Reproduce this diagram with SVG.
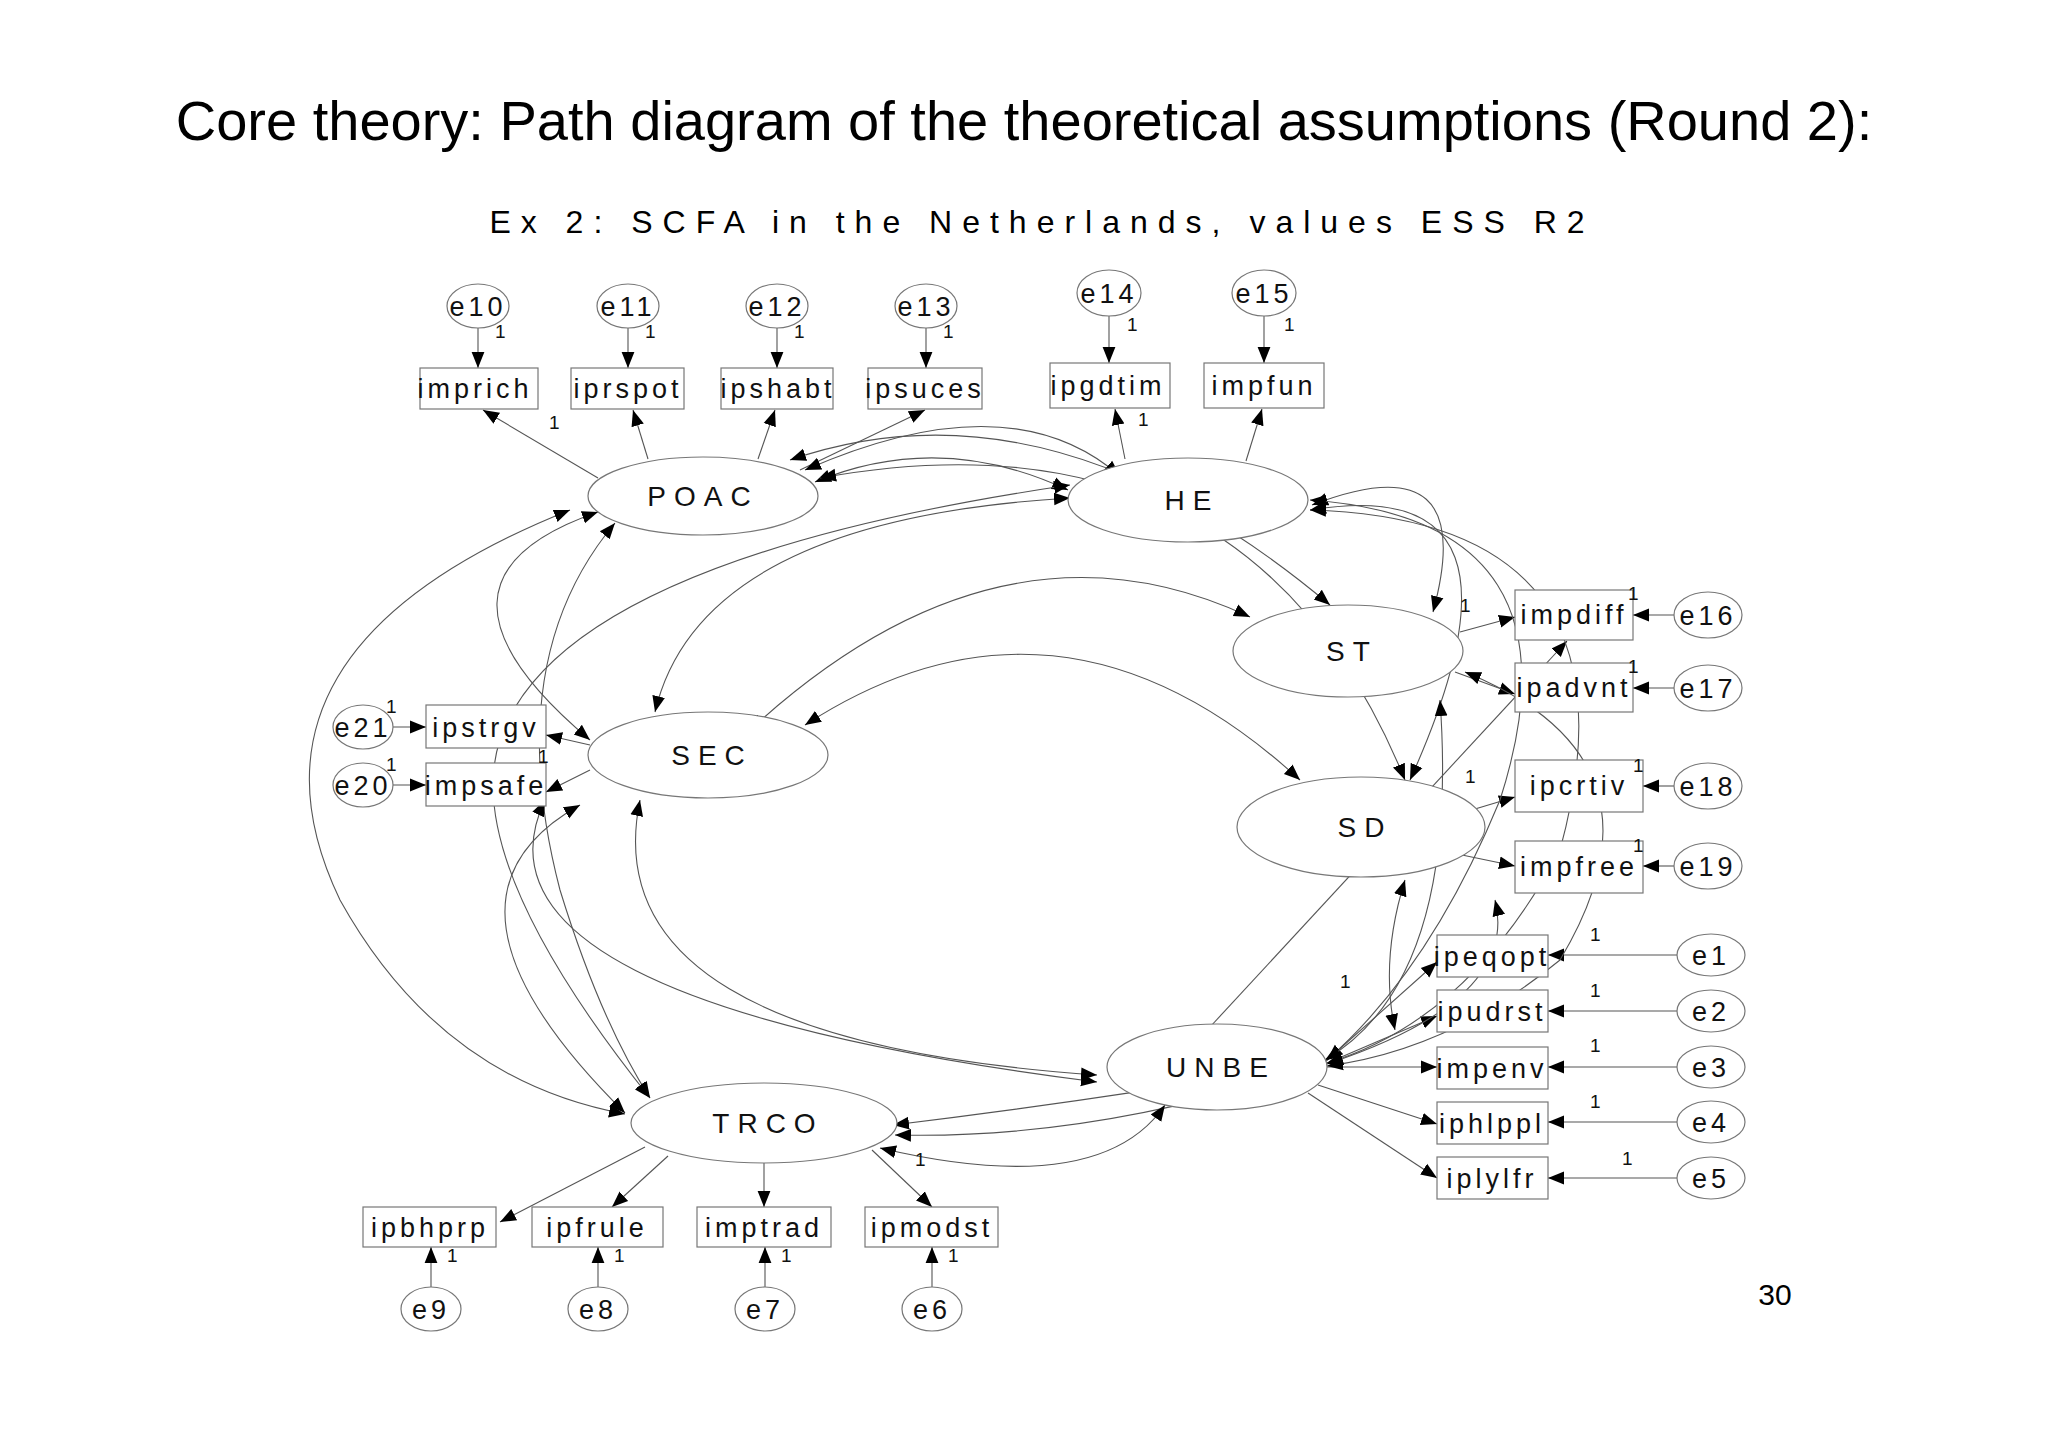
<svg xmlns="http://www.w3.org/2000/svg" width="2048" height="1447" viewBox="0 0 2048 1447">
<defs>
<marker id="a" viewBox="0 0 10 10" refX="10" refY="5" markerWidth="16" markerHeight="16" markerUnits="userSpaceOnUse" orient="auto-start-reverse"><path d="M0,1 L10,5 L0,9 z" fill="#000"/></marker>
<style>
.n{fill:#fff;stroke:#777;stroke-width:1.2}
.b{fill:#fff;stroke:#777;stroke-width:1.2}
.t{font-family:"Liberation Sans",Arial,sans-serif;font-size:27px;letter-spacing:4px;text-anchor:middle;fill:#111}
.L{font-family:"Liberation Sans",Arial,sans-serif;font-size:28px;letter-spacing:8px;text-anchor:middle;fill:#111}
.o{font-family:"Liberation Sans",Arial,sans-serif;font-size:19px;fill:#111}
.c path,.c line{fill:none;stroke:#555;stroke-width:1.1}
.s{marker-end:url(#a)}
.d{marker-end:url(#a);marker-start:url(#a)}
</style>
</defs>
<rect width="2048" height="1447" fill="#fff"/>
<text x="1024" y="140" font-family="Liberation Sans,Arial,sans-serif" font-size="56" text-anchor="middle">Core theory: Path diagram of the theoretical assumptions (Round 2):</text>
<text x="1042" y="233" font-family="Liberation Sans,Arial,sans-serif" font-size="32" letter-spacing="10" text-anchor="middle">Ex 2: SCFA in the Netherlands, values ESS R2</text>

<g class="c" id="connectors">
<!-- error arrows -->
<line class="s" x1="478" y1="328" x2="478" y2="368"/>
<line class="s" x1="628" y1="328" x2="628" y2="368"/>
<line class="s" x1="777" y1="328" x2="777" y2="368"/>
<line class="s" x1="926" y1="328" x2="926" y2="368"/>
<line class="s" x1="1109" y1="315" x2="1109" y2="363"/>
<line class="s" x1="1264" y1="315" x2="1264" y2="363"/>
<line class="s" x1="1674" y1="615" x2="1633" y2="615"/>
<line class="s" x1="1674" y1="688" x2="1633" y2="688"/>
<line class="s" x1="1674" y1="786" x2="1643" y2="786"/>
<line class="s" x1="1674" y1="866" x2="1643" y2="866"/>
<line class="s" x1="1677" y1="955" x2="1548" y2="955"/>
<line class="s" x1="1677" y1="1011" x2="1548" y2="1011"/>
<line class="s" x1="1677" y1="1067" x2="1548" y2="1067"/>
<line class="s" x1="1677" y1="1122" x2="1548" y2="1122"/>
<line class="s" x1="1677" y1="1178" x2="1548" y2="1178"/>
<line class="s" x1="393" y1="727" x2="426" y2="727"/>
<line class="s" x1="393" y1="785" x2="426" y2="785"/>
<line class="s" x1="431" y1="1287" x2="431" y2="1247"/>
<line class="s" x1="598" y1="1287" x2="598" y2="1247"/>
<line class="s" x1="765" y1="1287" x2="765" y2="1247"/>
<line class="s" x1="932" y1="1287" x2="932" y2="1247"/>
<!-- loadings -->
<line class="s" x1="598" y1="478" x2="483" y2="410"/>
<line class="s" x1="648" y1="459" x2="633" y2="410"/>
<line class="s" x1="758" y1="459" x2="775" y2="410"/>
<line class="s" x1="800" y1="470" x2="925" y2="410"/>
<line class="s" x1="1125" y1="459" x2="1115" y2="409"/>
<line class="s" x1="1246" y1="461" x2="1262" y2="409"/>
<line class="s" x1="1460" y1="632" x2="1515" y2="617"/>
<line class="s" x1="1455" y1="672" x2="1515" y2="694"/>
<line class="s" x1="1465" y1="812" x2="1515" y2="797"/>
<line class="s" x1="1462" y1="855" x2="1515" y2="866"/>
<line class="s" x1="1325" y1="1062" x2="1437" y2="962"/>
<line class="s" x1="1325" y1="1064" x2="1437" y2="1016"/>
<line class="s" x1="1327" y1="1067" x2="1437" y2="1067"/>
<line class="s" x1="1318" y1="1085" x2="1437" y2="1124"/>
<line class="s" x1="1308" y1="1093" x2="1437" y2="1178"/>
<line class="s" x1="1210" y1="1027" x2="1567" y2="641"/>
<line class="s" x1="590" y1="745" x2="546" y2="735"/>
<line class="s" x1="590" y1="770" x2="546" y2="792"/>
<line class="s" x1="645" y1="1147" x2="500" y2="1222"/>
<line class="s" x1="668" y1="1156" x2="612" y2="1207"/>
<line class="s" x1="764" y1="1163" x2="764" y2="1207"/>
<line class="s" x1="872" y1="1150" x2="932" y2="1207"/>
<!-- covariances -->
<path class="d" d="M815,482 Q940,430 1068,490"/>
<path class="d" d="M805,470 Q1010,380 1120,476"/>
<path class="d" d="M790,460 Q1050,370 1330,605"/>
<path class="d" d="M820,478 Q1250,400 1405,780"/>
<path class="d" d="M598,512 Q400,580 590,740"/>
<path class="d" d="M570,510 Q220,650 340,900 Q440,1080 625,1114"/>
<path class="d" d="M615,523 Q500,660 560,890 Q600,1020 650,1098"/>
<path class="d" d="M1070,498 Q700,520 655,712"/>
<path class="d" d="M1070,485 Q560,560 500,740 Q460,860 650,1098"/>
<path class="d" d="M1250,617 Q1000,500 750,730"/>
<path class="d" d="M1300,780 Q1060,560 805,725"/>
<path class="d" d="M1312,505 Q1480,440 1433,612"/>
<path class="d" d="M1310,510 Q1550,470 1410,780"/>
<path class="d" d="M1310,500 Q1590,520 1500,800 Q1430,970 1327,1060"/>
<path class="d" d="M1310,510 Q1650,520 1560,850 Q1470,1020 1327,1063"/>
<path class="d" d="M1465,672 Q1680,760 1560,960 Q1450,1050 1327,1066"/>
<path class="d" d="M1440,700 Q1460,980 1325,1060"/>
<path class="d" d="M1495,900 Q1520,1000 1327,1064"/>
<path class="d" d="M1405,880 Q1380,960 1395,1030"/>
<path class="d" d="M640,800 Q590,1040 1097,1075"/>
<path class="d" d="M545,800 Q450,1000 1097,1082"/>
<path class="d" d="M580,805 Q410,900 625,1113"/>
<path class="d" d="M895,1135 Q1100,1140 1322,1064"/>
<path class="d" d="M893,1125 Q1100,1100 1322,1062"/>
<path class="d" d="M880,1148 Q1100,1200 1165,1105"/>
</g>

<g id="POAC"><ellipse class="n" cx="703" cy="496" rx="115" ry="39"/><text class="L" x="703" y="506">POAC</text></g>
<g id="HE"><ellipse class="n" cx="1188" cy="500" rx="120" ry="42"/><text class="L" x="1192" y="510">HE</text></g>
<g id="ST"><ellipse class="n" cx="1348" cy="651" rx="115" ry="46"/><text class="L" x="1352" y="661">ST</text></g>
<g id="SD"><ellipse class="n" cx="1361" cy="827" rx="124" ry="50"/><text class="L" x="1365" y="837">SD</text></g>
<g id="SEC"><ellipse class="n" cx="708" cy="755" rx="120" ry="43"/><text class="L" x="712" y="765">SEC</text></g>
<g id="UNBE"><ellipse class="n" cx="1217" cy="1067" rx="110" ry="43"/><text class="L" x="1221" y="1077">UNBE</text></g>
<g id="TRCO"><ellipse class="n" cx="764" cy="1123" rx="133" ry="40"/><text class="L" x="768" y="1133">TRCO</text></g>

<g id="imprich"><rect class="b" x="420" y="368" width="118" height="41"/><text class="t" x="475" y="398">imprich</text></g>
<g id="iprspot"><rect class="b" x="571" y="368" width="113" height="41"/><text class="t" x="628" y="398">iprspot</text></g>
<g id="ipshabt"><rect class="b" x="721" y="368" width="112" height="41"/><text class="t" x="778" y="398">ipshabt</text></g>
<g id="ipsuces"><rect class="b" x="868" y="368" width="114" height="41"/><text class="t" x="925" y="398">ipsuces</text></g>
<g id="ipgdtim"><rect class="b" x="1050" y="363" width="120" height="45"/><text class="t" x="1108" y="395">ipgdtim</text></g>
<g id="impfun"><rect class="b" x="1204" y="363" width="120" height="45"/><text class="t" x="1264" y="395">impfun</text></g>
<g id="impdiff"><rect class="b" x="1515" y="590" width="118" height="50"/><text class="t" x="1574" y="624">impdiff</text></g>
<g id="ipadvnt"><rect class="b" x="1515" y="663" width="118" height="49"/><text class="t" x="1574" y="697">ipadvnt</text></g>
<g id="ipcrtiv"><rect class="b" x="1515" y="760" width="128" height="52"/><text class="t" x="1579" y="795">ipcrtiv</text></g>
<g id="impfree"><rect class="b" x="1515" y="841" width="128" height="52"/><text class="t" x="1579" y="876">impfree</text></g>
<g id="ipeqopt"><rect class="b" x="1437" y="935" width="111" height="42"/><text class="t" x="1492" y="966">ipeqopt</text></g>
<g id="ipudrst"><rect class="b" x="1437" y="990" width="111" height="42"/><text class="t" x="1492" y="1021">ipudrst</text></g>
<g id="impenv"><rect class="b" x="1437" y="1047" width="111" height="42"/><text class="t" x="1492" y="1078">impenv</text></g>
<g id="iphlppl"><rect class="b" x="1437" y="1102" width="111" height="42"/><text class="t" x="1492" y="1133">iphlppl</text></g>
<g id="iplylfr"><rect class="b" x="1437" y="1157" width="111" height="42"/><text class="t" x="1492" y="1188">iplylfr</text></g>
<g id="ipstrgv"><rect class="b" x="426" y="705" width="120" height="43"/><text class="t" x="486" y="737">ipstrgv</text></g>
<g id="impsafe"><rect class="b" x="426" y="763" width="120" height="43"/><text class="t" x="486" y="795">impsafe</text></g>
<g id="ipbhprp"><rect class="b" x="363" y="1207" width="133" height="40"/><text class="t" x="430" y="1237">ipbhprp</text></g>
<g id="ipfrule"><rect class="b" x="532" y="1207" width="131" height="40"/><text class="t" x="597" y="1237">ipfrule</text></g>
<g id="imptrad"><rect class="b" x="697" y="1207" width="134" height="40"/><text class="t" x="764" y="1237">imptrad</text></g>
<g id="ipmodst"><rect class="b" x="865" y="1207" width="133" height="40"/><text class="t" x="932" y="1237">ipmodst</text></g>

<g id="e10"><ellipse class="n" cx="478" cy="306" rx="31" ry="22"/><text class="t" x="478" y="316">e10</text></g>
<g id="e11"><ellipse class="n" cx="628" cy="306" rx="31" ry="22"/><text class="t" x="628" y="316">e11</text></g>
<g id="e12"><ellipse class="n" cx="777" cy="306" rx="31" ry="22"/><text class="t" x="777" y="316">e12</text></g>
<g id="e13"><ellipse class="n" cx="926" cy="306" rx="31" ry="22"/><text class="t" x="926" y="316">e13</text></g>
<g id="e14"><ellipse class="n" cx="1109" cy="293" rx="32" ry="23"/><text class="t" x="1109" y="303">e14</text></g>
<g id="e15"><ellipse class="n" cx="1264" cy="293" rx="32" ry="23"/><text class="t" x="1264" y="303">e15</text></g>
<g id="e16"><ellipse class="n" cx="1708" cy="615" rx="34" ry="23"/><text class="t" x="1708" y="625">e16</text></g>
<g id="e17"><ellipse class="n" cx="1708" cy="688" rx="34" ry="23"/><text class="t" x="1708" y="698">e17</text></g>
<g id="e18"><ellipse class="n" cx="1708" cy="786" rx="34" ry="23"/><text class="t" x="1708" y="796">e18</text></g>
<g id="e19"><ellipse class="n" cx="1708" cy="866" rx="34" ry="23"/><text class="t" x="1708" y="876">e19</text></g>
<g id="e1"><ellipse class="n" cx="1711" cy="955" rx="34" ry="21"/><text class="t" x="1711" y="965">e1</text></g>
<g id="e2"><ellipse class="n" cx="1711" cy="1011" rx="34" ry="21"/><text class="t" x="1711" y="1021">e2</text></g>
<g id="e3"><ellipse class="n" cx="1711" cy="1067" rx="34" ry="21"/><text class="t" x="1711" y="1077">e3</text></g>
<g id="e4"><ellipse class="n" cx="1711" cy="1122" rx="34" ry="21"/><text class="t" x="1711" y="1132">e4</text></g>
<g id="e5"><ellipse class="n" cx="1711" cy="1178" rx="34" ry="21"/><text class="t" x="1711" y="1188">e5</text></g>
<g id="e21"><ellipse class="n" cx="363" cy="727" rx="30" ry="22"/><text class="t" x="363" y="737">e21</text></g>
<g id="e20"><ellipse class="n" cx="363" cy="785" rx="30" ry="22"/><text class="t" x="363" y="795">e20</text></g>
<g id="e9"><ellipse class="n" cx="431" cy="1309" rx="30" ry="22"/><text class="t" x="431" y="1319">e9</text></g>
<g id="e8"><ellipse class="n" cx="598" cy="1309" rx="30" ry="22"/><text class="t" x="598" y="1319">e8</text></g>
<g id="e7"><ellipse class="n" cx="765" cy="1309" rx="30" ry="22"/><text class="t" x="765" y="1319">e7</text></g>
<g id="e6"><ellipse class="n" cx="932" cy="1309" rx="30" ry="22"/><text class="t" x="932" y="1319">e6</text></g>

<g id="labels" class="o">
<text x="495" y="338">1</text><text x="645" y="338">1</text><text x="794" y="338">1</text><text x="943" y="338">1</text>
<text x="1127" y="331">1</text><text x="1284" y="331">1</text>
<text x="549" y="429">1</text><text x="1138" y="426">1</text>
<text x="1628" y="600">1</text><text x="1628" y="673">1</text><text x="1633" y="772">1</text><text x="1633" y="852">1</text>
<text x="1460" y="612">1</text><text x="1465" y="783">1</text>
<text x="1590" y="941">1</text><text x="1590" y="997">1</text><text x="1590" y="1052">1</text><text x="1590" y="1108">1</text><text x="1622" y="1165">1</text>
<text x="1340" y="988">1</text>
<text x="386" y="713">1</text><text x="386" y="771">1</text><text x="538" y="763">1</text>
<text x="447" y="1262">1</text><text x="614" y="1262">1</text><text x="781" y="1262">1</text><text x="948" y="1262">1</text>
<text x="915" y="1166">1</text>
</g>
<text x="1775" y="1305" font-family="Liberation Sans,Arial,sans-serif" font-size="30" text-anchor="middle">30</text>
</svg>
